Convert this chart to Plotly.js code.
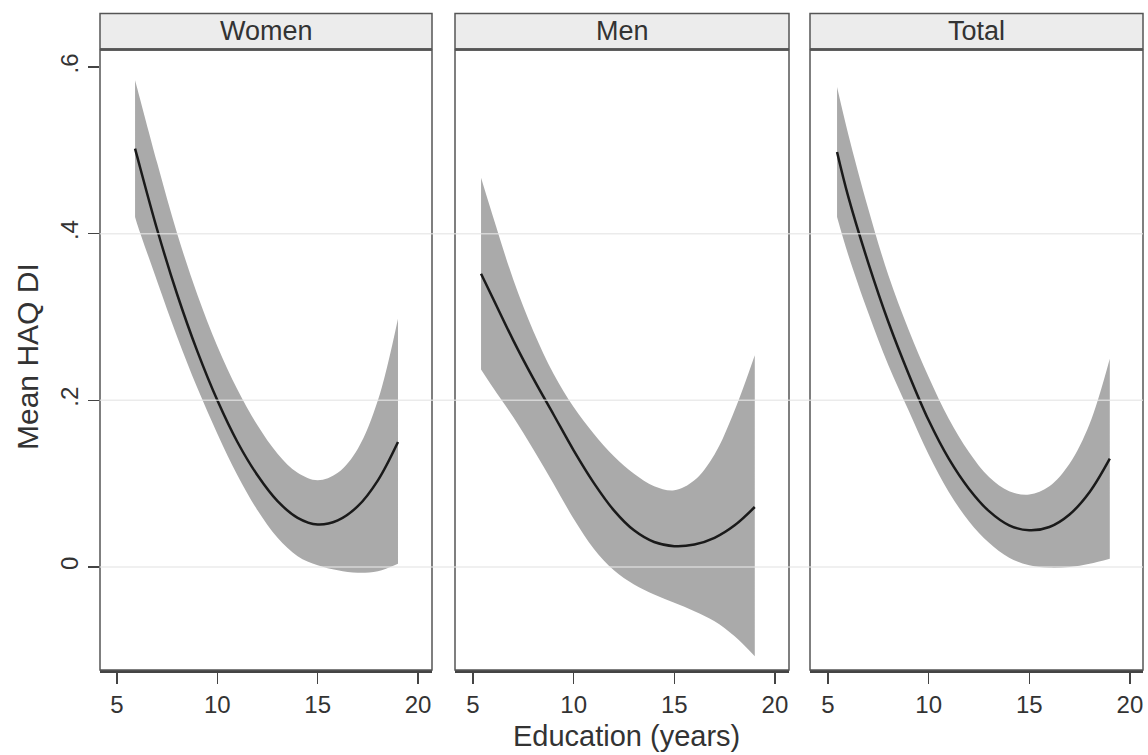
<!DOCTYPE html>
<html>
<head>
<meta charset="utf-8">
<script src="https://cdn.plot.ly/plotly-3.0.1.min.js"></script>
<style>html,body{margin:0;padding:0;background:#fff;}#chart{width:1148px;height:755px;}</style>
</head>
<body>
<div id="chart"></div>
<script>
// Panels
const panels = ["Women", "Men", "Total"];

// Education (years) and mean HAQ DI with confidence band
const years_women = [5.9, 6, 7, 8, 9, 10, 11, 12, 13, 14, 15, 16, 17, 18, 19];
const mean_women  = [0.502, 0.493, 0.405, 0.327, 0.259, 0.200, 0.150, 0.110, 0.079, 0.059, 0.051, 0.056, 0.073, 0.104, 0.150];
const upper_women = [0.584, 0.575, 0.485, 0.400, 0.327, 0.265, 0.213, 0.170, 0.136, 0.113, 0.104, 0.113, 0.142, 0.200, 0.298];
const lower_women = [0.420, 0.412, 0.343, 0.276, 0.215, 0.160, 0.110, 0.068, 0.035, 0.013, 0.002, -0.004, -0.007, -0.005, 0.004];

const years_men = [5.4, 6, 7, 8, 9, 10, 11, 12, 13, 14, 15, 16, 17, 18, 19];
const mean_men  = [0.352, 0.322, 0.272, 0.226, 0.183, 0.140, 0.101, 0.068, 0.044, 0.030, 0.025, 0.027, 0.035, 0.050, 0.072];
const upper_men = [0.467, 0.420, 0.345, 0.283, 0.232, 0.192, 0.160, 0.133, 0.112, 0.097, 0.092, 0.104, 0.135, 0.188, 0.254];
const lower_men = [0.237, 0.215, 0.180, 0.141, 0.100, 0.058, 0.022, -0.004, -0.021, -0.033, -0.043, -0.053, -0.065, -0.083, -0.107];

const years_total = [5.45, 6, 7, 8, 9, 10, 11, 12, 13, 14, 15, 16, 17, 18, 19];
const mean_total  = [0.498, 0.445, 0.365, 0.294, 0.232, 0.176, 0.130, 0.094, 0.067, 0.050, 0.044, 0.048, 0.063, 0.090, 0.130];
const upper_total = [0.576, 0.520, 0.430, 0.350, 0.285, 0.228, 0.178, 0.138, 0.108, 0.091, 0.087, 0.097, 0.124, 0.172, 0.250];
const lower_total = [0.420, 0.375, 0.305, 0.242, 0.188, 0.135, 0.090, 0.055, 0.029, 0.011, 0.002, -0.001, 0.000, 0.004, 0.010];

// Axis ticks
const x_tickvals = [5, 10, 15, 20];
const y_tickvals = [0, 0.2, 0.4, 0.6];
const y_ticktext = ["0", ".2", ".4", ".6"];
const grid_vals = [0, 0.2, 0.4];

const xTitle = "Education (years)";
const yTitle = "Mean HAQ DI";

const W = 1148, H = 755;
const px = v => v / W;
const py = v => (H - v) / H;

const series = [
  {x: years_women, m: mean_women, u: upper_women, l: lower_women},
  {x: years_men, m: mean_men, u: upper_men, l: lower_men},
  {x: years_total, m: mean_total, u: upper_total, l: lower_total}
];
const panelPx = [[100, 432], [455, 789], [810, 1143]];
const xRanges = [[4.153, 20.695], [4.106, 20.70], [4.106, 20.65]];
const yRange = [-0.1236, 0.6204];
const yDomain = [py(670), py(50)];

const FONT = "Liberation Sans, Arial, Helvetica, sans-serif";
const BAND = "#aaaaaa";

const traces = [];
series.forEach((s, i) => {
  const xa = i === 0 ? "x" : "x" + (i + 1);
  const ya = i === 0 ? "y" : "y" + (i + 1);
  traces.push({x: s.x, y: s.l, xaxis: xa, yaxis: ya, type: "scatter", mode: "lines",
    line: {width: 0, shape: "spline", smoothing: 1, color: BAND}, hoverinfo: "skip", showlegend: false});
  traces.push({x: s.x, y: s.u, xaxis: xa, yaxis: ya, type: "scatter", mode: "lines",
    fill: "tonexty", fillcolor: BAND,
    line: {width: 0, shape: "spline", smoothing: 1, color: BAND}, hoverinfo: "skip", showlegend: false});
  traces.push({x: s.x, y: s.m, xaxis: xa, yaxis: ya, type: "scatter", mode: "lines",
    line: {width: 2.5, shape: "spline", smoothing: 1, color: "#1a1a1a"}, showlegend: false});
});

const layout = {
  width: W, height: H,
  margin: {l: 0, r: 0, t: 0, b: 0},
  paper_bgcolor: "#ffffff",
  plot_bgcolor: "#ffffff",
  font: {family: FONT, color: "#333333"},
  showlegend: false,
  shapes: [],
  annotations: []
};

panelPx.forEach((p, i) => {
  const sfx = i === 0 ? "" : String(i + 1);
  layout["xaxis" + sfx] = {
    domain: [px(p[0]), px(p[1])], range: xRanges[i], anchor: "y" + sfx,
    tickvals: x_tickvals, ticks: "outside", ticklen: 11, tickwidth: 1.5, tickcolor: "#444",
    showline: true, linecolor: "#444", linewidth: 3, showgrid: false, zeroline: false,
    tickfont: {size: 24, family: FONT, color: "#333"}, automargin: false, fixedrange: true
  };
  layout["yaxis" + sfx] = {
    domain: yDomain, range: yRange, anchor: "x" + sfx,
    tickvals: y_tickvals, ticktext: y_ticktext, tickangle: -90,
    ticks: i === 0 ? "outside" : "", ticklen: 11, tickwidth: 1.5, tickcolor: "#444",
    showticklabels: i === 0, showline: false, showgrid: false, zeroline: false,
    tickfont: {size: 24, family: FONT, color: "#333"}, automargin: false, fixedrange: true
  };
  // header strip
  layout.shapes.push({type: "rect", xref: "paper", yref: "paper",
    x0: px(p[0]), x1: px(p[1]), y0: py(49), y1: py(13.5),
    fillcolor: "#ececec", line: {color: "#555", width: 1.5}, layer: "below"});
  // plot frame
  layout.shapes.push({type: "rect", xref: "paper", yref: "paper",
    x0: px(p[0]), x1: px(p[1]), y0: yDomain[0], y1: yDomain[1],
    fillcolor: "rgba(0,0,0,0)", line: {color: "#555", width: 1.5}, layer: "above"});
  layout.shapes.push({type: "line", xref: "paper", yref: "paper",
    x0: px(p[0]), x1: px(p[1]), y0: py(49.5), y1: py(49.5),
    line: {color: "#555", width: 2.5}, layer: "above"});
  layout.annotations.push({text: panels[i], xref: "paper", yref: "paper",
    x: px((p[0] + p[1]) / 2), y: py(31), xanchor: "center", yanchor: "middle",
    showarrow: false, font: {size: 27, family: FONT, color: "#333"}});
});

// light grid lines across the panels
grid_vals.forEach(g => {
  layout.shapes.push({type: "line", xref: "paper", yref: "y",
    x0: px(100), x1: px(1143), y0: g, y1: g,
    line: {color: "rgba(228,228,228,0.75)", width: 1.5}, layer: "above"});
});

layout.annotations.push({text: xTitle, xref: "paper", yref: "paper",
  x: px(626), y: py(736), xanchor: "center", yanchor: "middle", showarrow: false,
  font: {size: 29, family: FONT, color: "#333"}});
layout.annotations.push({text: yTitle, xref: "paper", yref: "paper",
  x: px(28), y: py(357), xanchor: "center", yanchor: "middle", textangle: -90, showarrow: false,
  font: {size: 30, family: FONT, color: "#333"}});

Plotly.newPlot("chart", traces, layout, {displayModeBar: false, staticPlot: true});
</script>
</body>
</html>
